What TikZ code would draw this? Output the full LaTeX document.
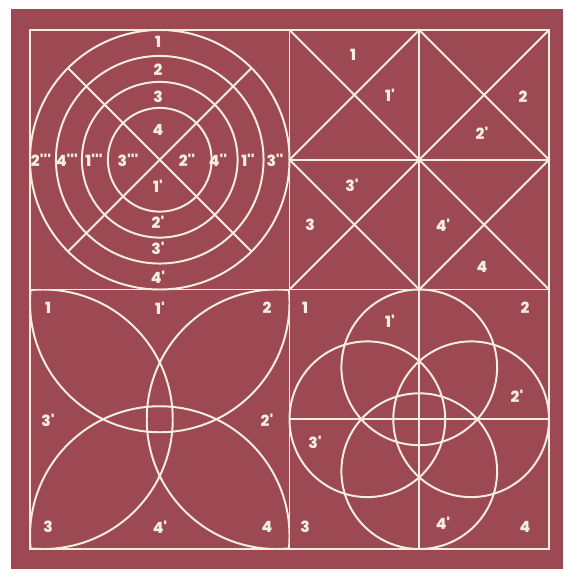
\documentclass[tikz,border=0pt]{standalone}
\usepackage{fontspec}
\usepackage{xcolor}
\newfontfamily\lblfont{Poppins}[BoldFont={Poppins ExtraBold}]
\definecolor{maroon}{HTML}{9C4954}
\definecolor{chalk}{HTML}{F3EEDD}
\begin{document}
\begin{tikzpicture}[
    x=0.025cm, y=-0.025cm,
    line/.style={draw=chalk, line width=1.4pt},
    lbl/.style={text=chalk, font=\lblfont\bfseries\fontsize{11}{12}\selectfont, inner sep=0pt}
  ]
    % paper
    \fill[white] (0,0) rectangle (563,569);
    \fill[maroon] (11,9) rectangle (563,569);
    \useasboundingbox (0,0) rectangle (563,569);

    % frame
    \coordinate (nw) at (30,30);
    \coordinate (ne) at (549,30);
    \coordinate (se) at (549,549);
    \coordinate (sw) at (30,549);
    \coordinate (n) at (289.5,30);
    \coordinate (s) at (289.5,549);
    \coordinate (w) at (30,289.5);
    \coordinate (e) at (549,289.5);
    \coordinate (m) at (289.5,289.5);

    % top left: rings
    \coordinate (tl) at (159.75,159.75);
    \foreach \r in {1,0.8,0.6,0.4}
      \draw[line] (tl) circle ({129.75*\r});
    \draw[line] (tl) ++(45:129.75) -- ++(225:259.5);
    \draw[line] (tl) ++(135:129.75) -- ++(315:259.5);

    % top right: crossed squares
    \coordinate (trn) at (419.25,30);
    \coordinate (trs) at (419.25,289.5);
    \coordinate (trw) at (289.5,159.75);
    \coordinate (tre) at (549,159.75);
    \draw[line] (n) -- (e) (ne) -- (m);
    \draw[line] (trn) -- (tre) -- (trs) -- (trw) -- cycle;
    \draw[line] (trn) -- (trs) (trw) -- (tre);

    % bottom left: petals
    \coordinate (bl) at (159.75,419.25);
    \begin{scope}
      \clip (w) rectangle (s);
      \foreach \a in {0,90,180,270}
        \draw[line] (bl) ++(\a:116.75) circle (129.75);
    \end{scope}

    % bottom right: four circles
    \coordinate (br) at (419.25,419.25);
    \coordinate (brn) at (419.25,289.5);
    \coordinate (brs) at (419.25,549);
    \coordinate (brw) at (289.5,419.25);
    \coordinate (bre) at (549,419.25);
    \foreach \a in {0,90,180,270}
      \draw[line] (br) ++(\a:51.9) circle (77.85);
    \draw[line] (brn) -- (brs) (brw) -- (bre);

    \draw[line] (nw) rectangle (se);
    \draw[line] (n) -- (s) (w) -- (e);

    % labels
    \foreach \x/\y/\t/\k in {158/42/1/a, 158/70/2/b, 158/97/3/c, 158/130/4/d,
        158/186/1'/e, 158/222/2'/f, 158/248/3'/g, 158/277/4'/h,
        41/160/2'''/i, 67/160/4'''/j, 94/160/1'''/k, 128/160/3'''/l,
        187/160/2''/m, 218/160/4''/n, 248/160/1''/o, 275/160/3''/p}
      \node[lbl] (tl\k) at (\x,\y) {\t};
    \foreach \x/\y/\t/\k in {353/55/1/a, 390/95/1'/b, 523/97/2/c, 482/133/2'/d,
        352/185/3'/e, 310/225/3/f, 443/225/4'/g, 482/267/4/h}
      \node[lbl] (tr\k) at (\x,\y) {\t};
    \foreach \x/\y/\t/\k in {48/308/1/a, 160/308/1'/b, 267/308/2/c, 48/420/3'/d,
        267/420/2'/e, 48/527/3/f, 160/527/4'/g, 267/527/4/h}
      \node[lbl] (bl\k) at (\x,\y) {\t};
    \foreach \x/\y/\t/\k in {305/308/1/a, 390/321/1'/b, 525/308/2/c, 517/396/2'/d,
        315/442/3'/e, 305/527/3/f, 443/523/4'/g, 525/527/4/h}
      \node[lbl] (br\k) at (\x,\y) {\t};
  \end{tikzpicture}
\end{document}
